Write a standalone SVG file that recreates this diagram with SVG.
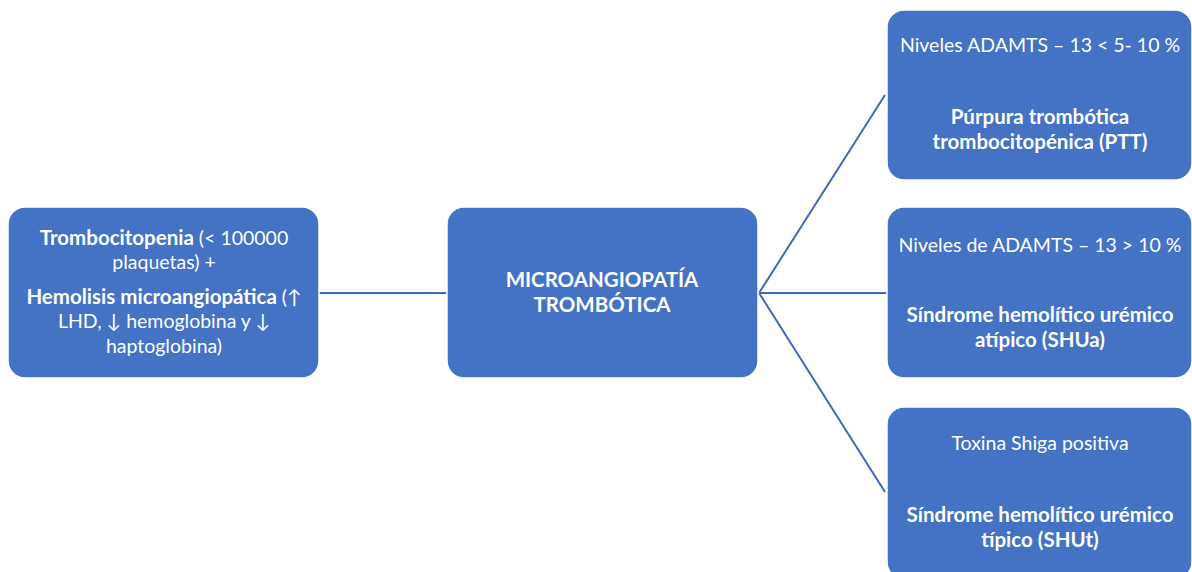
<svg xmlns="http://www.w3.org/2000/svg" width="1192" height="572" viewBox="0 0 1192 572">
<style>
.box{fill:#4472C4;stroke:#ffffff;stroke-width:1.5}
.t{font-family:Lato,"Open Sans","Liberation Sans",sans-serif;font-size:19.5px;fill:#ffffff;text-anchor:middle}
.b{font-weight:bold;font-size:20.5px}
.c{stroke:#4169B8;stroke-width:2;fill:none}
</style>
<rect width="1192" height="572" fill="#ffffff"/>
<g id="connectors">
<line class="c" x1="319" y1="293" x2="447" y2="293"/>
<line class="c" x1="759" y1="293" x2="885" y2="95"/>
<line class="c" x1="759" y1="293" x2="887" y2="293"/>
<line class="c" x1="759" y1="293" x2="885" y2="492"/>
</g>
<g id="left">
<rect class="box" x="8" y="207" width="311" height="171" rx="17"/>
<text class="t" x="164" y="245"><tspan class="b">Trombocitopenia</tspan> (&lt; 100000</text>
<text class="t" x="164" y="269">plaquetas) +</text>
<text class="t" x="164" y="304"><tspan class="b">Hemolisis microangiopática</tspan> (↑</text>
<text class="t" x="164" y="328">LHD,  ↓ hemoglobina y  ↓</text>
<text class="t" x="164" y="353">haptoglobina)</text>
</g>
<g id="center">
<rect class="box" x="447" y="207" width="311" height="171" rx="17"/>
<text class="t b" x="602" y="287">MICROANGIOPATÍA</text>
<text class="t b" x="602" y="312">TROMBÓTICA</text>
</g>
<g id="ptt">
<rect class="box" x="887" y="10" width="305" height="170" rx="17"/>
<text class="t" x="1040" y="52">Niveles ADAMTS – 13 &lt; 5- 10 %</text>
<text class="t b" x="1040" y="124">Púrpura trombótica</text>
<text class="t b" x="1040" y="149">trombocitopénica (PTT)</text>
</g>
<g id="shua">
<rect class="box" x="887" y="207" width="305" height="171" rx="17"/>
<text class="t" x="1040" y="252">Niveles de ADAMTS – 13 &gt; 10 %</text>
<text class="t b" x="1040" y="322">Síndrome hemolítico urémico</text>
<text class="t b" x="1040" y="347">atípico (SHUa)</text>
</g>
<g id="shut">
<rect class="box" x="887" y="407" width="305" height="172" rx="17"/>
<text class="t" x="1040" y="450">Toxina Shiga positiva</text>
<text class="t b" x="1040" y="522">Síndrome hemolítico urémico</text>
<text class="t b" x="1040" y="547">típico (SHUt)</text>
</g>
</svg>
